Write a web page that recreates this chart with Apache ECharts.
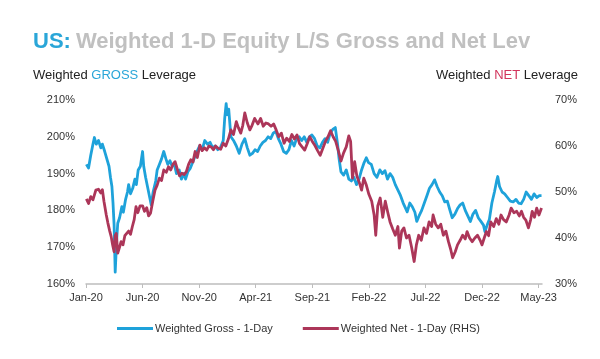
<!DOCTYPE html>
<html>
<head>
<meta charset="utf-8">
<script src="https://cdn.jsdelivr.net/npm/echarts@6/dist/echarts.min.js"></script>
<style>html,body{margin:0;padding:0;background:#fff;}#c{width:600px;height:359px;}</style>
</head>
<body>
<div id="c"></div>
<script>
// X tick labels (every 5 months from Jan-20)
const tickLabels = ['Jan-20','Jun-20','Nov-20','Apr-21','Sep-21','Feb-22','Jul-22','Dec-22','May-23'];

// Weighted Gross - 1-Day (left axis, %)
const grossDates = ['2020-01-02','2020-01-08','2020-01-14','2020-01-20','2020-01-24','2020-01-29','2020-02-04','2020-02-10','2020-02-14','2020-02-20','2020-02-25','2020-03-02','2020-03-06','2020-03-10','2020-03-13','2020-03-16','2020-03-19','2020-03-23','2020-03-26','2020-03-31','2020-04-06','2020-04-10','2020-04-16','2020-04-21','2020-04-24','2020-04-29','2020-05-05','2020-05-11','2020-05-15','2020-05-20','2020-05-26','2020-06-01','2020-06-04','2020-06-09','2020-06-14','2020-06-19','2020-06-24','2020-06-29','2020-07-06','2020-07-10','2020-07-16','2020-07-22','2020-07-28','2020-08-03','2020-08-08','2020-08-14','2020-08-20','2020-08-26','2020-09-01','2020-09-08','2020-09-14','2020-09-20','2020-09-25','2020-10-01','2020-10-08','2020-10-14','2020-10-20','2020-10-26','2020-11-02','2020-11-09','2020-11-16','2020-11-23','2020-11-30','2020-12-07','2020-12-14','2020-12-21','2020-12-28','2021-01-05','2021-01-09','2021-01-13','2021-01-16','2021-01-20','2021-01-26','2021-02-02','2021-02-09','2021-02-16','2021-02-23','2021-03-02','2021-03-09','2021-03-16','2021-03-23','2021-03-30','2021-04-06','2021-04-13','2021-04-20','2021-04-27','2021-05-04','2021-05-11','2021-05-18','2021-05-25','2021-06-01','2021-06-08','2021-06-15','2021-06-22','2021-06-29','2021-07-06','2021-07-13','2021-07-20','2021-07-27','2021-08-03','2021-08-10','2021-08-17','2021-08-24','2021-08-31','2021-09-07','2021-09-14','2021-09-21','2021-09-28','2021-10-05','2021-10-12','2021-10-19','2021-10-26','2021-11-02','2021-11-08','2021-11-12','2021-11-17','2021-11-24','2021-12-01','2021-12-08','2021-12-15','2021-12-22','2021-12-29','2022-01-05','2022-01-12','2022-01-19','2022-01-25','2022-01-31','2022-02-07','2022-02-14','2022-02-21','2022-02-28','2022-03-07','2022-03-14','2022-03-21','2022-03-28','2022-04-04','2022-04-11','2022-04-18','2022-04-25','2022-05-02','2022-05-09','2022-05-13','2022-05-20','2022-05-27','2022-06-03','2022-06-08','2022-06-14','2022-06-21','2022-06-28','2022-07-05','2022-07-12','2022-07-19','2022-07-26','2022-08-02','2022-08-09','2022-08-16','2022-08-23','2022-08-30','2022-09-06','2022-09-12','2022-09-19','2022-09-26','2022-10-03','2022-10-10','2022-10-17','2022-10-24','2022-10-31','2022-11-07','2022-11-14','2022-11-21','2022-11-28','2022-12-05','2022-12-09','2022-12-15','2022-12-21','2022-12-28','2023-01-04','2023-01-10','2023-01-13','2023-01-18','2023-01-25','2023-02-01','2023-02-08','2023-02-15','2023-02-22','2023-03-01','2023-03-08','2023-03-15','2023-03-22','2023-03-29','2023-04-05','2023-04-12','2023-04-19','2023-04-26','2023-05-03','2023-05-09'];
const grossValues = [192.5,191.5,195,198,199.8,198,199,197,198,196,196.5,192,189,186.5,182,176,163.2,172,176.5,178,181,179.5,183,185,187,184.5,186,188.5,187,191,192,196,192,189,186.5,184,181.5,185,188,191,192.5,194,196,194,192.5,193.5,192,192.5,190,191,188.5,190,188.5,190.5,191.5,193,194.5,196,197.5,196.5,199,198,198.5,197,197.5,196.5,197,199,205,209,206,207.5,200,199,197.5,195.5,198,199.5,197,195,195.5,196.5,196,197.5,198.5,199,200,199.5,201,201.5,199.5,198,196,195.5,196.5,199,197.5,199.5,200,199,200,198.5,200,200.5,199.5,197.5,197,198.5,199.5,198.5,201,202,202.5,198,194,190.5,189.6,191,188.5,188,189,187,188.5,191,193,194.3,193,192.5,190,189,191,190,190.8,188.5,190,189,187,185.5,184,182,180.5,179.6,182,181,179.5,177,178.5,180,182,184,186,187,188.3,186.5,185,184,182.3,182.5,180,178,179,180.5,181.5,182,180,178.5,177,179,180,178,177,176,174.2,176,177.5,182,185,188,189.2,186.5,185,184.5,183.5,182.5,182.3,183,182,181.8,183,185,184,183,184.5,183.5,184,184];

// Weighted Net - 1-Day (right axis, %)
const netDates = ['2020-01-02','2020-01-08','2020-01-14','2020-01-20','2020-01-28','2020-02-04','2020-02-10','2020-02-14','2020-02-18','2020-02-24','2020-02-28','2020-03-04','2020-03-08','2020-03-12','2020-03-16','2020-03-19','2020-03-22','2020-03-26','2020-03-31','2020-04-04','2020-04-09','2020-04-14','2020-04-19','2020-04-24','2020-04-29','2020-05-04','2020-05-09','2020-05-14','2020-05-19','2020-05-25','2020-06-01','2020-06-06','2020-06-12','2020-06-17','2020-06-22','2020-06-28','2020-07-04','2020-07-10','2020-07-16','2020-07-22','2020-07-28','2020-08-04','2020-08-10','2020-08-16','2020-08-22','2020-08-28','2020-09-03','2020-09-09','2020-09-15','2020-09-21','2020-09-27','2020-10-03','2020-10-09','2020-10-15','2020-10-21','2020-10-27','2020-11-03','2020-11-09','2020-11-15','2020-11-21','2020-11-27','2020-12-03','2020-12-09','2020-12-15','2020-12-22','2020-12-29','2021-01-05','2021-01-12','2021-01-19','2021-01-26','2021-02-02','2021-02-09','2021-02-14','2021-02-20','2021-02-25','2021-03-02','2021-03-09','2021-03-16','2021-03-22','2021-03-29','2021-04-07','2021-04-14','2021-04-21','2021-04-28','2021-05-05','2021-05-12','2021-05-19','2021-05-26','2021-06-02','2021-06-09','2021-06-16','2021-06-23','2021-06-30','2021-07-07','2021-07-14','2021-07-21','2021-07-28','2021-08-04','2021-08-11','2021-08-18','2021-08-25','2021-09-01','2021-09-08','2021-09-15','2021-09-22','2021-09-29','2021-10-06','2021-10-13','2021-10-20','2021-10-27','2021-11-03','2021-11-10','2021-11-17','2021-11-24','2021-12-01','2021-12-08','2021-12-13','2021-12-18','2021-12-24','2021-12-30','2022-01-06','2022-01-12','2022-01-18','2022-01-25','2022-02-01','2022-02-08','2022-02-14','2022-02-18','2022-02-23','2022-03-01','2022-03-08','2022-03-15','2022-03-22','2022-03-28','2022-04-04','2022-04-11','2022-04-18','2022-04-22','2022-04-28','2022-05-04','2022-05-11','2022-05-18','2022-05-25','2022-06-01','2022-06-07','2022-06-13','2022-06-20','2022-06-27','2022-07-04','2022-07-11','2022-07-18','2022-07-22','2022-07-29','2022-08-05','2022-08-12','2022-08-19','2022-08-26','2022-09-02','2022-09-08','2022-09-13','2022-09-20','2022-09-26','2022-10-03','2022-10-10','2022-10-17','2022-10-22','2022-10-29','2022-11-05','2022-11-12','2022-11-19','2022-11-26','2022-12-01','2022-12-07','2022-12-13','2022-12-19','2022-12-25','2023-01-02','2023-01-09','2023-01-16','2023-01-22','2023-01-29','2023-02-05','2023-02-12','2023-02-17','2023-02-24','2023-03-03','2023-03-10','2023-03-16','2023-03-22','2023-03-28','2023-04-04','2023-04-10','2023-04-14','2023-04-20','2023-04-26','2023-05-02','2023-05-09'];
const netValues = [48.5,47.5,49,48.3,50.4,50.6,49.8,50.5,48,45,43.3,41.5,40.3,38.5,37,40.5,41,36.7,38,39.2,38.5,40.5,40.6,41.5,40.8,42.5,44,46.8,45.5,47,47,45.8,46.6,44.8,45.4,48,50.4,51.5,53,52.5,54.8,54.3,55.5,54.8,56,56.6,55,53.5,54.1,53.8,54.4,56,57,56.5,58.8,57.5,60.2,59,59.6,59.1,60,59.8,59.2,60,59.5,59.3,60.6,60,61.5,63.5,62.5,65.3,64,62.8,64.5,67.2,65,63.5,64.5,66,64.8,66,64.3,65,64.8,64.3,64.8,63.5,62,62.8,60.6,61.7,61,62.5,61.5,62.4,60.5,59.8,59.1,60.5,62,61,60.1,59,58,59.5,61,62,63.3,62,61,59,56.7,58.5,59.8,62.2,61,53,56.6,53.5,52,50.4,53,51.5,49.5,48,45,40.6,47,48.7,44.5,48,45.5,43.5,42,40.6,42.5,37.8,41.5,42.2,40,40.6,38,34.9,38.5,40.6,39.5,42.2,41,43.5,42.5,45,43,42.2,43,40.6,41.5,39.2,37.5,35.7,37,38.5,39.5,40.6,39.8,41.4,40,39.2,40,40.6,39.5,38.5,40,41.4,40.5,43.5,42.5,44.2,43,45,44,43.5,45,46.5,45.5,45.8,44.8,45.8,44.5,43.9,42.2,44,45.8,44.5,46.5,45,46.5];

const BLUE = '#1ea2da', RED = '#ac3659';

// convert a date to months since Jan 2020
function monthOffset(s) {
  const [y, m, d] = s.split('-').map(Number);
  const dim = new Date(y, m, 0).getDate();
  return (y - 2020) * 12 + (m - 1) + (d - 1) / dim;
}
const grossData = grossDates.map((d, i) => [monthOffset(d), grossValues[i]]);
const netData = netDates.map((d, i) => [monthOffset(d), netValues[i]]);

const chart = echarts.init(document.getElementById('c'));
const font = 'Liberation Sans, Arial, sans-serif';
chart.setOption({
  animation: false,
  backgroundColor: '#fff',
  title: [
    { text: '{a|US:} {b|Weighted 1-D Equity L/S Gross and Net Lev}', left: 28, top: 26,
      textStyle: { rich: {
        a: { color: '#2aa6d8', fontSize: 22, fontWeight: 'bold', fontFamily: font },
        b: { color: '#c0c0c0', fontSize: 22, fontWeight: 'bold', fontFamily: font } } } },
    { text: '{a|Weighted }{b|GROSS}{a| Leverage}', left: 28, top: 64,
      textStyle: { fontWeight: 'normal', rich: {
        a: { color: '#222', fontSize: 13, fontWeight: 'normal', fontFamily: font },
        b: { color: '#2aa6d8', fontSize: 13, fontWeight: 'normal', fontFamily: font } } } },
    { text: '{a|Weighted }{b|NET}{a| Leverage}', right: 17, top: 64,
      textStyle: { fontWeight: 'normal', rich: {
        a: { color: '#222', fontSize: 13, fontWeight: 'normal', fontFamily: font },
        b: { color: '#d2345c', fontSize: 13, fontWeight: 'normal', fontFamily: font } } } }
  ],
  legend: {
    left: 112, top: 318, itemWidth: 36, itemHeight: 3, itemGap: 30,
    icon: 'rect',
    textStyle: { color: '#333', fontSize: 11, fontFamily: font, padding: [0, 0, 0, -3] },
    data: ['Weighted Gross - 1-Day', 'Weighted Net - 1-Day (RHS)']
  },
  grid: { left: 86, right: 58, top: 100, bottom: 75 },
  xAxis: {
    type: 'value', min: 0, max: 40.3, interval: 5,
    axisLine: { lineStyle: { color: '#bdbdbd', width: 1.5 } },
    axisTick: { show: true, length: 4, inside: false, lineStyle: { color: '#bdbdbd' } },
    splitLine: { show: false },
    axisLabel: {
      color: '#333', fontSize: 11, fontFamily: font, margin: 8, showMaxLabel: false,
      formatter: v => (Math.abs(v / 5 - Math.round(v / 5)) < 1e-6 ? (tickLabels[Math.round(v / 5)] || '') : '')
    }
  },
  yAxis: [
    { type: 'value', min: 160, max: 210, interval: 10, position: 'left',
      axisLine: { show: false }, axisTick: { show: false }, splitLine: { show: false },
      axisLabel: { formatter: '{value}%', color: '#333', fontSize: 11, fontFamily: font, margin: 11 } },
    { type: 'value', min: 30, max: 70, interval: 10, position: 'right',
      axisLine: { show: false }, axisTick: { show: false }, splitLine: { show: false },
      axisLabel: { formatter: '{value}%', color: '#333', fontSize: 11, fontFamily: font, margin: 13 } }
  ],
  series: [
    { name: 'Weighted Gross - 1-Day', type: 'line', yAxisIndex: 0, data: grossData,
      showSymbol: false, symbol: 'none', lineStyle: { color: BLUE, width: 2.8, join: 'round' }, itemStyle: { color: BLUE }, z: 2 },
    { name: 'Weighted Net - 1-Day (RHS)', type: 'line', yAxisIndex: 1, data: netData,
      showSymbol: false, symbol: 'none', lineStyle: { color: RED, width: 2.8, join: 'round' }, itemStyle: { color: RED }, z: 3 }
  ]
});
</script>
</body>
</html>
